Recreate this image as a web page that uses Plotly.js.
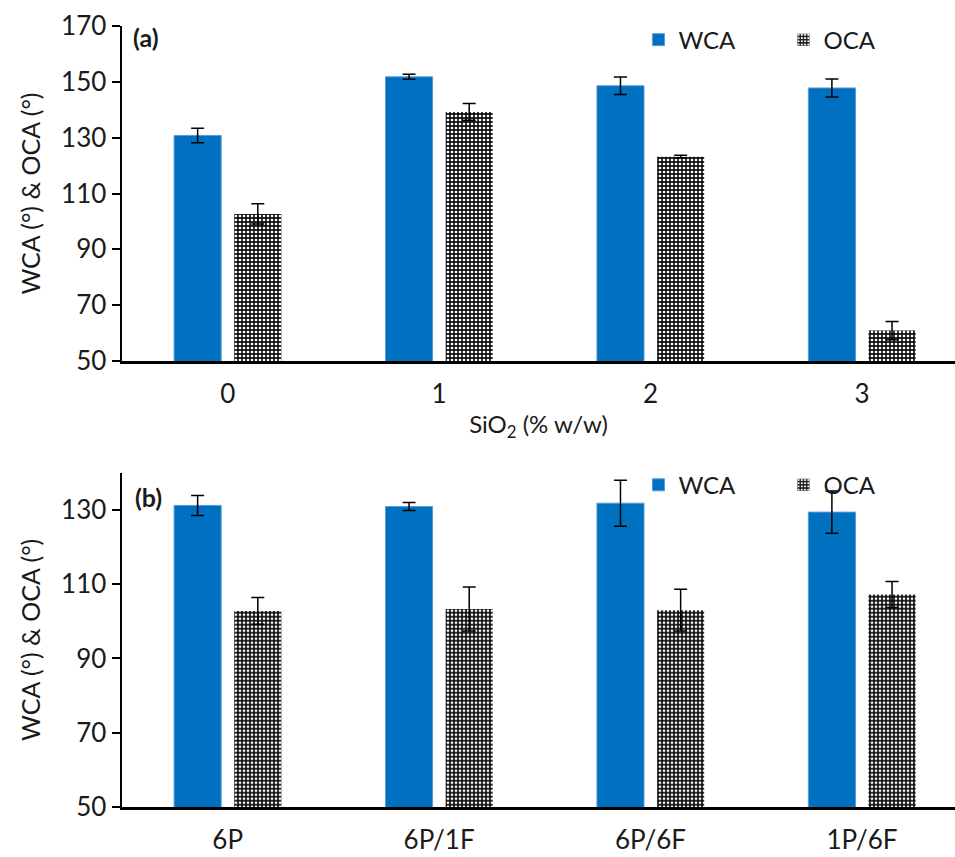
<!DOCTYPE html>
<html>
<head>
<meta charset="utf-8">
<script src="https://cdn.plot.ly/plotly-3.0.1.min.js"></script>
<style>html,body{margin:0;padding:0;background:#fff;}#chart{width:955px;height:857px;}</style>
</head>
<body>
<div id="chart"></div>
<script>
// Panel (a)
const catsA = ["0", "1", "2", "3"];
const wcaA = [130.8, 151.8, 148.6, 147.8];
const wcaErrA = [2.6, 0.9, 3.1, 3.2];
const ocaA = [102.7, 139.2, 123.2, 60.9];
const ocaErrA = [3.6, 3.0, 0.5, 3.3];

// Panel (b)
const catsB = ["6P", "6P/1F", "6P/6F", "1P/6F"];
const wcaB = [131.2, 130.9, 131.8, 129.4];
const wcaErrB = [2.7, 1.1, 6.2, 5.7];
const ocaB = [102.8, 103.3, 103.0, 107.2];
const ocaErrB = [3.6, 5.9, 5.6, 3.5];

const FONT = "Lato, 'Open Sans', sans-serif";
const BLUE = "#0070C0";
const ocaPattern = {shape: ".", fgcolor: "#ffffff", bgcolor: "#111111", size: 4, solidity: 0.35, fillmode: "replace"};
const errStyle = (arr) => ({type: "data", array: arr, visible: true, color: "#000", thickness: 1.5, width: 6.5});

const traces = [
  {type: "bar", name: "WCA", x: catsA, y: wcaA, error_y: errStyle(wcaErrA),
   marker: {color: BLUE, line: {color: "#5B9BD5", width: 1}}, xaxis: "x", yaxis: "y", legend: "legend"},
  {type: "bar", name: "OCA", x: catsA, y: ocaA, error_y: errStyle(ocaErrA),
   marker: {color: "#111111", pattern: ocaPattern, line: {width: 0}}, xaxis: "x", yaxis: "y", legend: "legend"},
  {type: "bar", name: "WCA", x: catsB, y: wcaB, error_y: errStyle(wcaErrB),
   marker: {color: BLUE, line: {color: "#5B9BD5", width: 1}}, xaxis: "x2", yaxis: "y2", legend: "legend2"},
  {type: "bar", name: "OCA", x: catsB, y: ocaB, error_y: errStyle(ocaErrB),
   marker: {color: "#111111", pattern: ocaPattern, line: {width: 0}}, xaxis: "x2", yaxis: "y2", legend: "legend2"}
];

const yTitle = "WCA (°) & OCA (°)";
const TXT = "#1a1a1a";
const axisCommon = {showgrid: false, zeroline: false, showline: true, linecolor: "#000", linewidth: 2.5,
  tickfont: {family: FONT, size: 26, color: TXT}};

const legendCommon = {orientation: "h", xanchor: "left", yanchor: "middle", x: 0.62,
  font: {family: FONT, size: 24, color: TXT}, bgcolor: "rgba(0,0,0,0)", entrywidth: 100, traceorder: "normal"};

const layout = {
  width: 955, height: 857,
  margin: {l: 122, r: 0, t: 26, b: 50},
  paper_bgcolor: "#fff", plot_bgcolor: "#fff",
  barmode: "group", bargap: 0.431, bargroupgap: 0.217,
  font: {family: FONT, color: TXT},
  xaxis: Object.assign({}, axisCommon, {domain: [0, 1], anchor: "y", type: "category", range: [-0.5, 3.44],
    ticks: "", ticklabelstandoff: 8,
    title: {text: "SiO<sub>2</sub> (% w/w)", font: {family: FONT, size: 24, color: TXT}, standoff: 9}}),
  yaxis: Object.assign({}, axisCommon, {domain: [0.571, 1], anchor: "x", range: [50, 170], dtick: 20, tick0: 50,
    ticks: "outside", ticklen: 8, tickwidth: 2, tickcolor: "#000",
    title: {text: yTitle, font: {family: FONT, size: 25, color: TXT}, standoff: 14}}),
  xaxis2: Object.assign({}, axisCommon, {domain: [0, 1], anchor: "y2", type: "category", range: [-0.5, 3.44],
    ticks: "", ticklabelstandoff: 8}),
  yaxis2: Object.assign({}, axisCommon, {domain: [0, 0.428], anchor: "x2", range: [50, 140], dtick: 20, tick0: 50,
    ticks: "outside", ticklen: 8, tickwidth: 2, tickcolor: "#000",
    title: {text: yTitle, font: {family: FONT, size: 25, color: TXT}, standoff: 14}}),
  legend: Object.assign({}, legendCommon, {y: 0.982}),
  legend2: Object.assign({}, legendCommon, {y: 0.412}),
  annotations: [
    {text: "<b>(a)</b>", xref: "paper", yref: "paper", x: 0.011, y: 0.986, xanchor: "left", yanchor: "middle",
     showarrow: false, font: {family: FONT, size: 25, color: TXT}},
    {text: "<b>(b)</b>", xref: "paper", yref: "paper", x: 0.013, y: 0.397, xanchor: "left", yanchor: "middle",
     showarrow: false, font: {family: FONT, size: 25, color: TXT}}
  ]
};

Plotly.newPlot("chart", traces, layout, {displayModeBar: false, staticPlot: true});
</script>
</body>
</html>
